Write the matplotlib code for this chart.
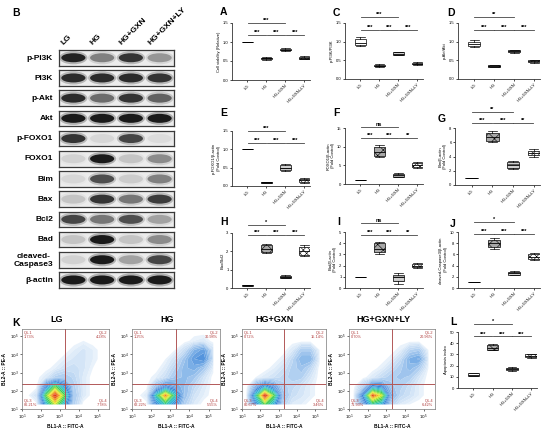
import numpy as np
import matplotlib
matplotlib.use("Agg")
import matplotlib.pyplot as plt
from matplotlib.patches import Ellipse
from matplotlib.colors import LinearSegmentedColormap, Normalize

plt.rcParams['font.family'] = ['Liberation Sans', 'DejaVu Sans']
plt.rcParams['hatch.linewidth'] = 0.4

W, H = 550, 430
fig = plt.figure(figsize=(5.5, 4.3), dpi=100)

groups = ["LG", "HG", "HG+GXN", "HG+GXN+LY"]

# ---- western blot (relative band darkness per lane) ----
blot_proteins = ["p-PI3K", "PI3K", "p-Akt", "Akt", "p-FOXO1", "FOXO1", "Bim",
                 "Bax", "Bcl2", "Bad", "cleaved-\nCaspase3", "β-actin"]
blot_levels = [
    [0.95, 0.45, 0.85, 0.35],
    [0.90, 0.90, 0.90, 0.85],
    [0.90, 0.55, 0.85, 0.60],
    [1.00, 1.00, 1.00, 1.00],
    [0.85, 0.08, 0.75, 0.06],
    [0.10, 1.00, 0.15, 0.40],
    [0.08, 0.70, 0.12, 0.45],
    [0.15, 0.85, 0.50, 0.80],
    [0.75, 0.50, 0.70, 0.30],
    [0.15, 1.00, 0.15, 0.40],
    [0.10, 1.00, 0.30, 0.75],
    [1.00, 1.00, 1.00, 1.00],
]

# ---- box plot stats: [whisker low, q1, median, q3, whisker high] ----
viability = [[1.0, 1.0, 1.0, 1.0, 1.0], [0.53, 0.55, 0.57, 0.59, 0.61],
             [0.76, 0.78, 0.80, 0.82, 0.83], [0.55, 0.56, 0.58, 0.61, 0.63]]
pi3k_ratio = [[0.88, 0.91, 0.97, 1.08, 1.12], [0.32, 0.34, 0.36, 0.38, 0.39],
              [0.63, 0.65, 0.68, 0.72, 0.73], [0.37, 0.39, 0.41, 0.43, 0.45]]
akt_ratio = [[0.85, 0.88, 0.93, 1.00, 1.05], [0.31, 0.33, 0.35, 0.37, 0.38],
             [0.69, 0.71, 0.74, 0.77, 0.79], [0.44, 0.46, 0.48, 0.51, 0.52]]
pfoxo1 = [[1.0, 1.0, 1.0, 1.0, 1.0], [0.07, 0.09, 0.10, 0.11, 0.12],
          [0.40, 0.43, 0.50, 0.57, 0.60], [0.09, 0.11, 0.15, 0.19, 0.21]]
foxo1 = [[1.0, 1.0, 1.0, 1.0, 1.0], [7.2, 7.6, 8.5, 9.8, 10.5],
         [1.8, 2.0, 2.3, 2.7, 2.9], [4.4, 4.6, 5.0, 5.5, 5.8]]
bim = [[1.0, 1.0, 1.0, 1.0, 1.0], [6.0, 6.2, 6.7, 7.3, 7.6],
       [2.2, 2.4, 2.8, 3.2, 3.4], [4.0, 4.2, 4.5, 4.8, 5.0]]
bax_bcl2 = [[0.11, 0.12, 0.14, 0.16, 0.17], [1.9, 1.95, 2.15, 2.35, 2.4],
            [0.52, 0.55, 0.60, 0.67, 0.70], [1.75, 1.80, 2.00, 2.25, 2.35]]
bad = [[1.0, 1.0, 1.0, 1.0, 1.0], [3.0, 3.2, 3.5, 4.0, 4.1],
       [0.4, 0.6, 0.95, 1.2, 1.3], [1.8, 1.85, 2.0, 2.15, 2.2]]
caspase3 = [[1.0, 1.0, 1.0, 1.0, 1.0], [7.0, 7.3, 8.0, 8.5, 9.0],
            [2.3, 2.4, 2.6, 2.9, 3.0], [5.0, 5.2, 5.6, 6.0, 6.2]]
apoptosis = [[10.5, 11.0, 12.0, 13.0, 13.5], [33.5, 34.0, 36.0, 38.0, 39.0],
             [15.5, 16.0, 17.0, 18.0, 19.0], [27.0, 27.5, 28.5, 30.0, 30.5]]

# ---- flow cytometry: quadrant percents and coarse log-density grids ----
flow_titles = ["LG", "HG", "HG+GXN", "HG+GXN+LY"]
flow_quadrants = [
    ["1.73%", "4.28%", "86.21%", "7.78%"],
    ["1.25%", "30.98%", "62.22%", "5.55%"],
    ["0.72%", "15.14%", "80.67%", "3.46%"],
    ["0.70%", "20.96%", "71.93%", "6.42%"],
]
# grid cell centres in log10 units (rows = PE, columns = FITC)
grid_x = [1.25, 1.75, 2.25, 2.75, 3.25, 3.75, 4.25, 4.75, 5.25]
grid_y = [1.25, 1.75, 2.25, 2.75, 3.25, 3.75, 4.25, 4.75, 5.25]
density_lg = [
    [0, 0, 4, 7, 4, 1, 0, 0, 0],
    [0, 0.5, 6, 9.5, 6, 1.2, 0.3, 0, 0],
    [0, 0, 3, 6, 3.5, 1, 0.3, 0, 0],
    [0, 0, 0.3, 1, 1.2, 0.8, 0.3, 0, 0],
    [0, 0, 0, 0.2, 0.5, 0.6, 0.4, 0.1, 0],
    [0, 0, 0, 0, 0.2, 0.4, 0.4, 0.2, 0],
    [0, 0, 0, 0, 0, 0.2, 0.4, 0.2, 0],
    [0, 0, 0, 0, 0, 0, 0.1, 0, 0],
    [0, 0, 0, 0, 0, 0, 0, 0, 0],
]
density_hg = [
    [0, 0, 3, 5, 3, 1, 0.3, 0, 0],
    [0, 0.3, 5, 8.5, 5, 1.5, 0.5, 0.2, 0],
    [0, 0, 1.5, 3, 2.2, 1.5, 0.8, 0.3, 0],
    [0, 0, 0.2, 0.6, 1.3, 1.6, 1.3, 0.5, 0],
    [0, 0, 0, 0.3, 0.9, 1.7, 2.0, 1.3, 0.2],
    [0, 0, 0, 0.1, 0.5, 1.4, 2.6, 3.0, 0.6],
    [0, 0, 0, 0, 0.1, 0.6, 1.8, 2.4, 0.5],
    [0, 0, 0, 0, 0, 0, 0.2, 0.3, 0],
    [0, 0, 0, 0, 0, 0, 0, 0, 0],
]
density_gxn = [
    [0, 3, 6, 4, 1, 0.3, 0.2, 0, 0],
    [0.3, 5, 9.5, 6, 1.5, 0.6, 0.4, 0.2, 0],
    [0, 2, 4, 2.5, 1, 0.8, 0.5, 0.2, 0],
    [0, 0.1, 0.3, 0.5, 0.8, 1, 1, 0.4, 0],
    [0, 0, 0, 0.2, 0.5, 1.0, 1.4, 0.8, 0],
    [0, 0, 0, 0, 0.2, 0.8, 1.8, 1.8, 0.2],
    [0, 0, 0, 0, 0, 0.3, 1.1, 1.1, 0.1],
    [0, 0, 0, 0, 0, 0, 0, 0, 0],
    [0, 0, 0, 0, 0, 0, 0, 0, 0],
]
density_ly = [
    [0, 2, 5, 4, 1, 0.3, 0.1, 0, 0],
    [0.2, 3.5, 9, 7, 2, 0.8, 0.5, 0.2, 0],
    [0, 1, 3.5, 3, 1.3, 1, 0.6, 0.2, 0],
    [0, 0, 0.3, 0.7, 1.1, 1.3, 1.1, 0.4, 0],
    [0, 0, 0, 0.2, 0.6, 1.1, 1.7, 1.1, 0.1],
    [0, 0, 0, 0, 0.2, 0.7, 1.9, 2.3, 0.3],
    [0, 0, 0, 0, 0, 0.2, 0.9, 1.1, 0.1],
    [0, 0, 0, 0, 0, 0, 0, 0, 0],
    [0, 0, 0, 0, 0, 0, 0, 0, 0],
]
flow_density = [density_lg, density_hg, density_gxn, density_ly]


def px_axes(left, top, right, bottom):
    return fig.add_axes([left / W, 1 - bottom / H, (right - left) / W, (bottom - top) / H])


def px_text(x, y, s, **kw):
    return fig.text(x / W, 1 - y / H, s, **kw)


# ===================== B: western blot =====================
px_text(12, 16, "B", fontsize=7.5, fontweight="bold")
lane_x = [59 + (i + 0.5) * 28.75 for i in range(4)]
for i, g in enumerate(groups):
    px_text(lane_x[i] - 8, 46, g, fontsize=6, fontweight="bold", rotation=45,
            rotation_mode="anchor", ha="left", va="bottom")

for r, name in enumerate(blot_proteins):
    top = 50 + r * 20.2
    ax = px_axes(59, top, 174, top + 15.5)
    ax.set_xlim(0, 4)
    ax.set_ylim(0, 1)
    ax.set_facecolor("#ececec")
    for s in ax.spines.values():
        s.set_linewidth(0.9)
        s.set_color("#3a3a3a")
    ax.set_xticks([])
    ax.set_yticks([])
    for i, lvl in enumerate(blot_levels[r]):
        ax.add_patch(Ellipse((i + 0.5, 0.5), 0.98, 0.85, color="black", alpha=0.25 * lvl, lw=0))
        ax.add_patch(Ellipse((i + 0.5, 0.5), 0.84, 0.58, color="black", alpha=0.85 * lvl, lw=0))
    px_text(53, top + 8, name, fontsize=6, fontweight="bold", ha="right", va="center",
            multialignment="center")


# ===================== box plot panels =====================
box_faces = ["white", "#a8a8a8", "#d0d0d0", "white"]
box_hatches = [None, "xxx", "----", "xxxxx"]


def box_panel(rect, stats, ylim, yticks, yticklabels, ylabel, letter, letter_xy, brackets):
    ax = px_axes(*rect)
    bstats = [dict(whislo=s[0], q1=s[1], med=s[2], q3=s[3], whishi=s[4]) for s in stats]
    parts = ax.bxp(bstats, positions=range(4), widths=0.6, patch_artist=True,
                   showfliers=False, capwidths=0.45,
                   medianprops=dict(color="black", lw=0.6),
                   whiskerprops=dict(color="black", lw=0.5),
                   capprops=dict(color="black", lw=0.5),
                   boxprops=dict(lw=0.5))
    for b, fc, h in zip(parts["boxes"], box_faces, box_hatches):
        b.set_facecolor(fc)
        b.set_edgecolor("black")
        if h:
            b.set_hatch(h)
    ax.set_xlim(-0.8, 3.3)
    ax.set_ylim(*ylim)
    ax.set_yticks(yticks)
    ax.set_yticklabels(yticklabels)
    ax.set_xticks(range(4))
    ax.set_xticklabels(groups, rotation=45, ha="right", rotation_mode="anchor")
    ax.tick_params(labelsize=3, length=1.5, width=0.5, pad=1)
    for side in ["top", "right"]:
        ax.spines[side].set_visible(False)
    for side in ["left", "bottom"]:
        ax.spines[side].set_linewidth(0.6)
        ax.spines[side].set_color("#333333")
    ax.set_ylabel(ylabel, fontsize=3, labelpad=1.5)
    ax.set_facecolor("none")
    for i, j, y, txt in brackets:
        ax.plot([i + 0.02, j - 0.02], [y, y], color="#444444", lw=0.6, clip_on=False)
        ax.text((i + j) / 2, y, txt, fontsize=4, ha="center", va="bottom", clip_on=False,
                fontweight="bold")
    px_text(letter_xy[0], letter_xy[1], letter, fontsize=7.5, fontweight="bold")
    return ax


def std_brackets(top_y, low_y, top_txt, low_txt):
    return [(0, 2, top_y, top_txt), (0, 1, low_y, low_txt[0]),
            (1, 2, low_y, low_txt[1]), (2, 3, low_y, low_txt[2])]


box_panel((232, 23, 310, 80), viability, (0, 1.5), [0, 0.5, 1.0, 1.5],
          ["0.0", "0.5", "1.0", "1.5"], "Cell viability (Relative)", "A", (220, 15),
          std_brackets(1.5, 1.19, "***", ["***", "***", "***"]))
box_panel((345, 23, 423, 79), pi3k_ratio, (0, 1.5), [0, 0.5, 1.0, 1.5],
          ["0.0", "0.5", "1.0", "1.5"], "p-PI3K/PI3K", "C", (333, 16),
          std_brackets(1.66, 1.32, "***", ["***", "***", "***"]))
box_panel((458, 23, 540, 79), akt_ratio, (0, 1.5), [0, 0.5, 1.0, 1.5],
          ["0.0", "0.5", "1.0", "1.5"], "p-Akt/Akt", "D", (447, 16),
          std_brackets(1.66, 1.32, "**", ["***", "***", "***"]))

box_panel((232, 131, 310, 186), pfoxo1, (0, 1.5), [0, 0.5, 1.0, 1.5],
          ["0.0", "0.5", "1.0", "1.5"], "p-FOXO1/β-actin\n(Fold Control)", "E", (220, 116),
          std_brackets(1.5, 1.18, "***", ["***", "***", "***"]))
box_panel((345, 128, 423, 184), foxo1, (0, 15), [0, 5, 10, 15],
          ["0", "5", "10", "15"], "FOXO1/β-actin\n(Fold Control)", "F", (333, 116),
          std_brackets(15.3, 12.3, "ns", ["***", "***", "**"]))
box_panel((455, 128, 540, 185), bim, (0, 8), [0, 2, 4, 6, 8],
          ["0", "2", "4", "6", "8"], "Bim/β-actin\n(Fold Control)", "G", (438, 122),
          std_brackets(10.2, 8.7, "**", ["***", "***", "**"]))

box_panel((232, 233, 310, 288), bax_bcl2, (0, 3), [0, 1, 2, 3],
          ["0", "1", "2", "3"], "Bax/Bcl2", "H", (220, 225),
          std_brackets(3.44, 2.9, "*", ["***", "***", "***"]))
box_panel((345, 232, 423, 288), bad, (0, 5), [0, 1, 2, 3, 4, 5],
          ["0", "1", "2", "3", "4", "5"], "Bad/β-actin\n(Fold Control)", "I", (337, 225),
          std_brackets(5.8, 4.7, "ns", ["***", "***", "**"]))
box_panel((458, 232, 540, 288), caspase3, (0, 10), [0, 2, 4, 6, 8, 10],
          ["0", "2", "4", "6", "8", "10"], "cleaved-Caspase3/β-actin\n(Fold Control)", "J",
          (450, 227), std_brackets(11.8, 9.6, "*", ["***", "***", "***"]))

box_panel((458, 332, 537, 388), apoptosis, (0, 50), [0, 10, 20, 30, 40, 50],
          ["0", "10", "20", "30", "40", "50"], "Apoptosis index", "L", (450, 325),
          std_brackets(57, 46, "*", ["***", "***", "***"]))


# ===================== K: flow cytometry =====================
flow_cmap = LinearSegmentedColormap.from_list(
    "flow", [(0.0, "#ffffff"), (0.02, "#e3eefa"), (0.1, "#b8d4f2"), (0.22, "#7aaee6"),
             (0.36, "#3f85d8"), (0.5, "#2cbfd5"), (0.65, "#3fcf4a"), (0.8, "#e8ee22"),
             (0.9, "#f39a1c"), (1.0, "#e23a12")])
flow_levels = [0.1, 0.2, 0.35, 0.5, 0.7, 0.9, 1.2, 1.5, 1.8, 2.2, 2.6, 3.0, 3.5, 4.0,
               4.5, 5.0, 5.5, 6.0, 6.5, 7.0, 7.5, 8.0, 8.5, 9.0]
px_text(12, 326, "K", fontsize=7.5, fontweight="bold")
flow_boxes = [(22, 109), (132, 220), (242, 326), (349, 435)]
for k, (x0, x1) in enumerate(flow_boxes):
    ax = px_axes(x0, 329, x1, 409)
    ax.contourf(grid_x, grid_y, flow_density[k], levels=flow_levels, cmap=flow_cmap,
                norm=Normalize(vmin=0, vmax=9), extend="max", antialiased=True)
    ax.set_xlim(1, 5.6)
    ax.set_ylim(1, 5.4)
    ax.axvline(3.28, color="#b25858", lw=0.7)
    ax.axhline(2.4, color="#b25858", lw=0.7)
    ticks = [1, 2, 3, 4, 5]
    tl = [r"$10^{%d}$" % t for t in ticks]
    ax.set_xticks(ticks)
    ax.set_xticklabels(tl)
    ax.set_yticks(ticks)
    ax.set_yticklabels(tl)
    ax.tick_params(labelsize=3, length=1.5, width=0.4, pad=1)
    for s in ax.spines.values():
        s.set_linewidth(0.5)
        s.set_color("#777777")
    ax.set_xlabel("BL1-A :: FITC-A", fontsize=3.5, fontweight="bold", labelpad=1.5)
    ax.set_ylabel("BL2-A :: PE-A", fontsize=3.5, fontweight="bold", labelpad=1.5)
    q = flow_quadrants[k]
    qc = "#b03a3a"
    ax.text(0.02, 0.98, "Q1-1\n" + q[0], transform=ax.transAxes, fontsize=2.8, color=qc,
            ha="left", va="top", linespacing=1.0)
    ax.text(0.98, 0.98, "Q1-2\n" + q[1], transform=ax.transAxes, fontsize=2.8, color=qc,
            ha="right", va="top", linespacing=1.0)
    ax.text(0.02, 0.02, "Q1-3\n" + q[2], transform=ax.transAxes, fontsize=2.8, color=qc,
            ha="left", va="bottom", linespacing=1.0)
    ax.text(0.98, 0.02, "Q1-4\n" + q[3], transform=ax.transAxes, fontsize=2.8, color=qc,
            ha="right", va="bottom", linespacing=1.0)
    px_text((x0 + x1) / 2 - 9, 322, flow_titles[k], fontsize=6.5, fontweight="bold",
            ha="center", va="baseline")

fig.savefig("out.png", dpi=100)
